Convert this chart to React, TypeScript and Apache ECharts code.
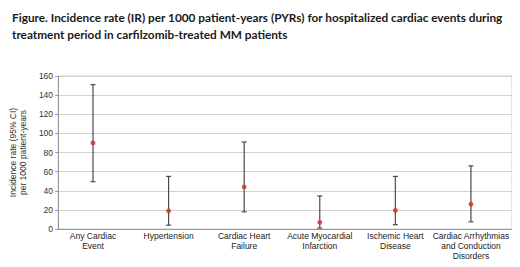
import React, { useEffect, useRef } from "react";
import * as echarts from "echarts";

const categories = [
  "Any Cardiac\nEvent",
  "Hypertension",
  "Cardiac Heart\nFailure",
  "Acute Myocardial\nInfarction",
  "Ischemic Heart\nDisease",
  "Cardiac Arrhythmias\nand Conduction\nDisorders",
];
const incidence = [90, 19, 44, 7, 19.5, 26];
const lowerCI = [49.5, 4, 18, 1, 4.5, 7.5];
const upperCI = [151, 55, 91, 34.5, 55, 66];
const yTicks = [0, 20, 40, 60, 80, 100, 120, 140, 160];

export default function App() {
  const ref = useRef<HTMLDivElement>(null);
  useEffect(() => {
    if (!ref.current) return;
    const chart = echarts.init(ref.current, null, { renderer: "svg" });
    const idx = categories.map((_, i) => i);
    chart.setOption({
      animation: false,
      backgroundColor: "#ffffff",
      title: {
        text:
          "Figure. Incidence rate (IR) per 1000 patient-years (PYRs) for hospitalized cardiac events during\ntreatment period in carfilzomib-treated MM patients",
        left: 7,
        top: 4,
        textStyle: {
          fontFamily: "Lato",
          fontWeight: "bold",
          fontSize: 11.8,
          lineHeight: 17,
          color: "#1a1a1a",
        },
      },
      grid: {
        left: 48,
        right: 8,
        top: 76,
        bottom: 38,
        show: true,
        borderColor: "#cfcfcf",
        borderWidth: 1,
      },
      xAxis: {
        type: "value",
        min: -0.462,
        max: 5.543,
        splitLine: { show: false },
        axisTick: { show: false },
        axisLine: { show: true, onZero: false, lineStyle: { color: "#9a9a9a" } },
        axisLabel: {
          customValues: idx,
          formatter: (v: number) => categories[Math.round(v)] ?? "",
          fontFamily: "Liberation Sans",
          fontSize: 8.5,
          lineHeight: 10,
          color: "#222",
          margin: 2,
        },
      },
      yAxis: {
        type: "value",
        min: 0,
        max: 160,
        interval: 20,
        name: "Incidence rate (95% CI)\nper 1000 patient-years",
        nameLocation: "middle",
        nameGap: 24,
        nameTextStyle: {
          fontFamily: "Liberation Sans",
          fontSize: 8.5,
          lineHeight: 10,
          color: "#333",
        },
        axisLine: { show: true, onZero: false, lineStyle: { color: "#9a9a9a" } },
        axisTick: { show: true, length: 3, lineStyle: { color: "#9a9a9a" } },
        axisLabel: {
          fontFamily: "Liberation Sans",
          fontSize: 8.5,
          color: "#333",
          margin: 5,
          formatter: (v: number) => (yTicks.includes(v) ? String(v) : ""),
        },
        splitLine: { lineStyle: { color: "#d2d2d2", width: 1 } },
      },
      series: [
        {
          type: "custom",
          data: idx.map((i) => [i, lowerCI[i], upperCI[i]]),
          encode: { x: 0, y: [1, 2] },
          renderItem: (params: any, api: any) => {
            const x = api.value(0);
            const lo = api.coord([x, api.value(1)]);
            const hi = api.coord([x, api.value(2)]);
            const cap = 2.5;
            const style = { stroke: "#4a4a4a", lineWidth: 1.2 };
            return {
              type: "group",
              children: [
                { type: "line", shape: { x1: lo[0], y1: lo[1], x2: hi[0], y2: hi[1] }, style },
                { type: "line", shape: { x1: hi[0] - cap, y1: hi[1], x2: hi[0] + cap, y2: hi[1] }, style },
                { type: "line", shape: { x1: lo[0] - cap, y1: lo[1], x2: lo[0] + cap, y2: lo[1] }, style },
              ],
            };
          },
          z: 2,
        },
        {
          type: "scatter",
          data: idx.map((i) => [i, incidence[i]]),
          symbol: "circle",
          symbolSize: 5,
          itemStyle: { color: "#c8332e" },
          z: 3,
        },
      ],
    });
    return () => chart.dispose();
  }, []);
  return <div ref={ref} style={{ width: 520, height: 267, margin: -8 }} />;
}
